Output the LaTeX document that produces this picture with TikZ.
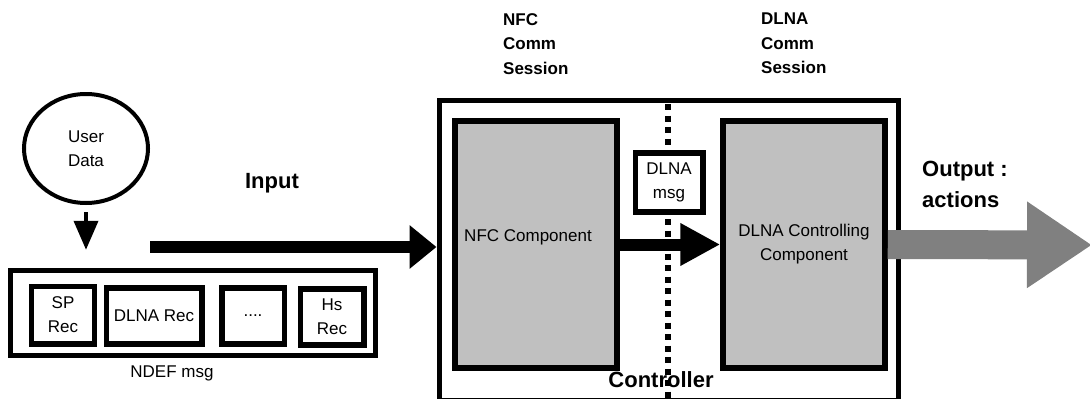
\documentclass[tikz,border=0pt]{standalone}
\usepackage{fontspec}
\setmainfont{Liberation Sans}
\usetikzlibrary{shapes.geometric,arrows.meta}
\definecolor{compgray}{RGB}{192,192,192}
\definecolor{outgray}{RGB}{128,128,128}

\begin{document}
\begin{tikzpicture}[x=1pt,y=-1pt,
  recbox/.style={draw,line width=5.5pt,inner sep=0pt,font=\fontsize{17}{24}\selectfont,align=center},
  compbox/.style={recbox,fill=compgray},
  plain/.style={inner sep=0pt,font=\fontsize{17}{24}\selectfont,align=center},
  hdr/.style={inner sep=0pt,anchor=north west,align=left,font=\fontsize{17}{24.5}\selectfont\bfseries},
  bigtxt/.style={inner sep=0pt,align=left,font=\fontsize{22}{31}\selectfont\bfseries}]
\useasboundingbox (0,0) rectangle (1090,399);
\node[draw,ellipse,line width=4pt,inner sep=0pt,minimum width=124pt,minimum height=109pt,font=\fontsize{17}{24}\selectfont,align=center] (user) at (86,148.5) {User\\Data};
\node[recbox,line width=5pt,minimum width=364.5pt,minimum height=85.5pt] (ndef) at (193,313) {};
\node[recbox,minimum width=63pt,minimum height=57.5pt] (sprec) at (63,315) {SP\\Rec};
\node[recbox,minimum width=95.5pt,minimum height=56pt] (dlnarec) at (154,316) {DLNA Rec};
\node[recbox,minimum width=62.5pt,minimum height=56pt] (morerec) at (253,316) {....};
\node[recbox,minimum width=63.5pt,minimum height=56pt] (hsrec) at (332,317) {Hs\\Rec};
\node[plain] (ndeflbl) at (172,373) {NDEF msg};
\draw[line width=4pt,-{Triangle[length=29pt,width=24pt]},shorten <=7pt,shorten >=18pt] (user.south) -- (user.south |- ndef.north);
\node[bigtxt] (inlbl) at (272,183) {Input};
\node[recbox,line width=5pt,minimum width=459pt,minimum height=300pt] (ctrl) at (668.5,250) {};
\node[bigtxt] (ctrllbl) at (661,380) {Controller};
\coordinate (septop) at (668,104);
\coordinate (sepbot) at (668,402);
\draw[line width=5.5pt,dash pattern=on 6pt off 5.5pt] (septop) -- (sepbot);
\node[compbox,minimum width=162pt,minimum height=247pt] (nfc) at (536,244.5) {};
\node[plain] (nfctxt) at (528,237) {NFC Component};
\node[compbox,minimum width=162pt,minimum height=247pt] (dlna) at (804,244.5) {DLNA Controlling\\Component};
\node[recbox,fill=white,minimum width=67.5pt,minimum height=59pt] (msg) at (669,182.5) {DLNA\\msg};
\node[hdr] (nfchdr) at (503,13) {NFC\\Comm\\Session};
\node[hdr] (dlnahdr) at (761,13) {DLNA\\Comm\\Session};
\node[bigtxt,anchor=north west] (outlbl) at (922,161) {Output :\\actions};
\coordinate (inp) at (150,247);
\draw[line width=12pt,-{Triangle[length=27pt,width=42pt]}] (inp) -- (inp -| ctrl.west);
\draw[line width=12pt,-{Triangle[length=40pt,width=40pt]}] (nfc.east) -- (dlna.west);
\coordinate (outtip) at (1092,245);
\draw[outgray,line width=29pt,-{Triangle[length=65pt,width=82pt]}] (dlna.east) -- (outtip);
\end{tikzpicture}
\end{document}
